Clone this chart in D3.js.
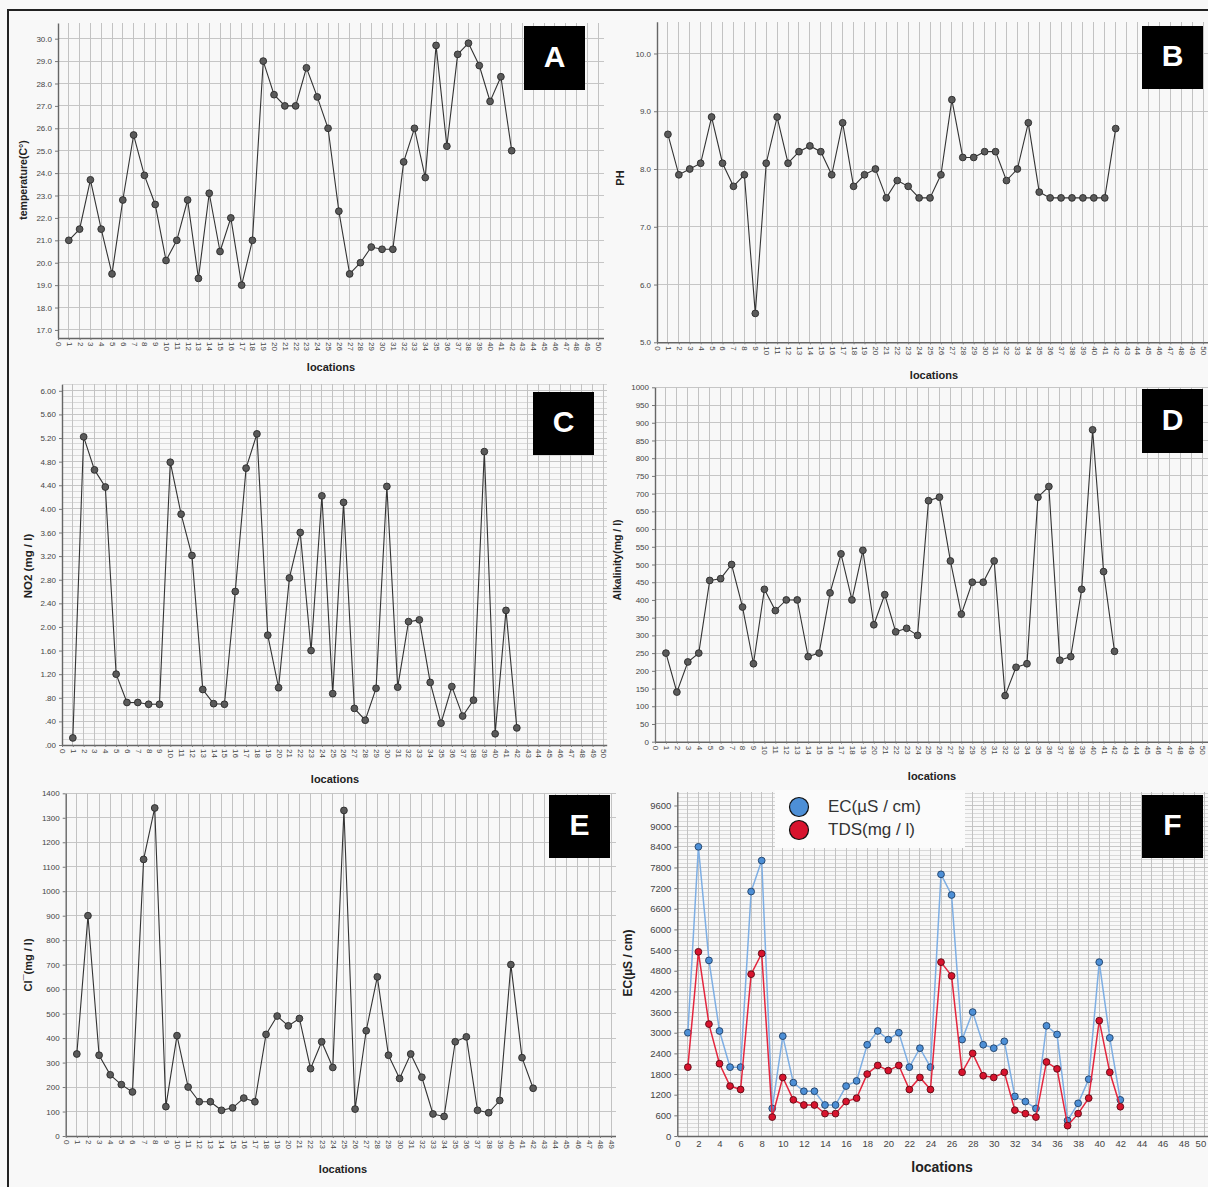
<!DOCTYPE html>
<html><head><meta charset="utf-8">
<script src="https://cdn.jsdelivr.net/npm/d3@7"></script>
<style>
html,body{margin:0;padding:0;background:#f8f8f8;}
svg{display:block;}
text{font-family:"Liberation Sans",Arial,sans-serif;}
</style></head><body>
<svg id="chart" width="1208" height="1187"></svg>
<script>
// ---------------- data ----------------
const locations = [1,2,3,4,5,6,7,8,9,10,11,12,13,14,15,16,17,18,19,20,21,22,23,24,25,26,27,28,29,30,31,32,33,34,35,36,37,38,39,40,41,42];
const temperature = [21.0,21.5,23.7,21.5,19.5,22.8,25.7,23.9,22.6,20.1,21.0,22.8,19.3,23.1,20.5,22.0,19.0,21.0,29.0,27.5,27.0,27.0,28.7,27.4,26.0,22.3,19.5,20.0,20.7,20.6,20.6,24.5,26.0,23.8,29.7,25.2,29.3,29.8,28.8,27.2,28.3,25.0];
const ph = [8.6,7.9,8.0,8.1,8.9,8.1,7.7,7.9,5.5,8.1,8.9,8.1,8.3,8.4,8.3,7.9,8.8,7.7,7.9,8.0,7.5,7.8,7.7,7.5,7.5,7.9,9.2,8.2,8.2,8.3,8.3,7.8,8.0,8.8,7.6,7.5,7.5,7.5,7.5,7.5,7.5,8.7];
const no2 = [0.12,5.22,4.66,4.37,1.20,0.72,0.72,0.69,0.69,4.79,3.91,3.21,0.94,0.70,0.69,2.60,4.69,5.27,1.86,0.97,2.83,3.60,1.60,4.22,0.87,4.11,0.62,0.42,0.96,4.38,0.98,2.09,2.12,1.06,0.37,0.99,0.49,0.76,4.97,0.19,2.28,0.29];
const alkalinity = [250,140,225,250,455,460,500,380,220,430,370,400,400,240,250,420,530,400,540,330,415,310,320,300,680,690,510,360,450,450,510,130,210,220,690,720,230,240,430,880,480,255];
const chloride = [335,900,330,250,210,180,1130,1340,120,410,200,140,140,105,115,155,140,415,490,450,480,275,385,280,1330,110,430,650,330,235,335,240,90,80,385,405,105,95,145,700,320,195];
const ec = [3000,8400,5100,3050,2000,2000,7100,8000,800,2900,1550,1300,1300,900,900,1450,1600,2650,3050,2800,3000,2000,2550,2000,7600,7000,2800,3600,2650,2550,2750,1150,1000,800,3200,2950,450,950,1650,5050,2850,1050];
const tds = [2000,5350,3250,2100,1450,1350,4700,5300,550,1700,1050,900,900,650,650,1000,1100,1800,2050,1900,2050,1350,1700,1350,5050,4650,1850,2400,1750,1700,1850,750,650,550,2150,1950,300,650,1100,3350,1850,850];

// ---------------- tick labels ----------------
const xTicks50 = [0,1,2,3,4,5,6,7,8,9,10,11,12,13,14,15,16,17,18,19,20,21,22,23,24,25,26,27,28,29,30,31,32,33,34,35,36,37,38,39,40,41,42,43,44,45,46,47,48,49,50];
const xTicks49 = xTicks50.slice(0,50);
const xTicksF = [0,2,4,6,8,10,12,14,16,18,20,22,24,26,28,30,32,34,36,38,40,42,44,46,48,50];
const tempTicks = [17,18,19,20,21,22,23,24,25,26,27,28,29,30];
const phTicks = [5,6,7,8,9,10];
const no2Ticks = [0,0.4,0.8,1.2,1.6,2.0,2.4,2.8,3.2,3.6,4.0,4.4,4.8,5.2,5.6,6.0];
const alkTicks = [0,50,100,150,200,250,300,350,400,450,500,550,600,650,700,750,800,850,900,950,1000];
const clTicks = [0,100,200,300,400,500,600,700,800,900,1000,1100,1200,1300,1400];
const ecTicks = [0,600,1200,1800,2400,3000,3600,4200,4800,5400,6000,6600,7200,7800,8400,9000,9600];

const svg = d3.select('#chart');

function drawPanel(c) {
  const g = svg.append('g');
  const x = d3.scaleLinear().domain(c.xDomain).range(c.xRange);
  const y = d3.scaleLinear().domain(c.yDomain).range(c.yRange);
  const [x0, x1] = c.xRange, [yb, yt] = c.yRange;
  const grid = g.append('g').attr('shape-rendering','crispEdges');
  if (c.yMinor) {
    grid.selectAll('line.hm').data(c.yMinor).join('line').attr('class','hm')
      .attr('x1', x0).attr('x2', x1).attr('y1', d => y(d)).attr('y2', d => y(d))
      .attr('stroke', '#d9d9d9').attr('stroke-width', 1);
  }
  grid.selectAll('line.hM').data(c.yTicks.filter(d => d > c.yDomain[0])).join('line').attr('class','hM')
    .attr('x1', x0).attr('x2', x1).attr('y1', d => y(d)).attr('y2', d => y(d))
    .attr('stroke', '#c6c6c6').attr('stroke-width', 1);
  grid.selectAll('line.v').data(c.xGrid).join('line').attr('class','v')
    .attr('x1', d => x(d)).attr('x2', d => x(d)).attr('y1', yt).attr('y2', yb)
    .attr('stroke', '#c2c2c2').attr('stroke-width', 1);

  const ya = g.append('g').attr('transform', `translate(${x0},0)`)
    .call(d3.axisLeft(y).tickValues(c.yTicks).tickFormat(c.yFmt).tickSizeInner(3).tickSizeOuter(0));
  ya.selectAll('text').attr('font-size', c.yFont || 8).attr('fill', '#444').attr('font-family','"Liberation Sans",Arial,sans-serif');
  const xa = g.append('g').attr('transform', `translate(0,${yb})`)
    .call(d3.axisBottom(x).tickValues(c.xTicks).tickFormat(d3.format('d')).tickSizeInner(c.rotate ? 2 : 0).tickSizeOuter(0));
  xa.selectAll('text').attr('font-size', c.xFont || 8).attr('fill', '#444').attr('font-family','"Liberation Sans",Arial,sans-serif');
  if (c.rotate) {
    xa.selectAll('text').attr('transform', 'rotate(90)').attr('text-anchor', 'start')
      .attr('x', 4).attr('y', 0).attr('dy', '0.32em');
  } else {
    xa.selectAll('text').attr('y', 4).attr('dy', '0.71em');
    // keep the last label inside the picture
    xa.selectAll('.tick').filter(d => d === c.xTicks[c.xTicks.length - 1]).select('text')
      .attr('text-anchor', 'end').attr('dx', '0.1em');
  }
  g.selectAll('.domain').attr('stroke', '#666').attr('stroke-width', 1.4);
  g.selectAll('.tick line').attr('stroke', '#777');

  c.series.forEach(s => {
    const line = d3.line().x((d, i) => x(locations[i])).y(d => y(d));
    g.append('path').datum(s.values).attr('d', line).attr('fill', 'none')
      .attr('stroke', s.stroke).attr('stroke-width', s.width || 1.1);
    g.append('g').selectAll('circle').data(s.values).join('circle')
      .attr('cx', (d, i) => x(locations[i])).attr('cy', d => y(d)).attr('r', s.r || 3.4)
      .attr('fill', s.fill).attr('stroke', s.mstroke).attr('stroke-width', 0.9);
  });

  g.append('text').attr('transform', `translate(${c.yTitlePos[0]},${c.yTitlePos[1]}) rotate(-90)`)
    .attr('text-anchor', 'middle').attr('dominant-baseline', 'middle')
    .attr('font-size', c.yTitleFont || 11).attr('font-weight', 'bold').attr('fill', '#222')
    .text(c.yTitle);
  g.append('text').attr('x', c.xTitlePos[0]).attr('y', c.xTitlePos[1])
    .attr('text-anchor', 'middle').attr('dominant-baseline', 'middle')
    .attr('font-size', c.xTitleFont || 11).attr('font-weight', 'bold').attr('fill', '#222')
    .text('locations');
  const b = c.box;
  g.append('rect').attr('x', b[0]).attr('y', b[1]).attr('width', b[2]).attr('height', b[3]).attr('fill', '#000');
  g.append('text').attr('x', b[0] + b[2] / 2).attr('y', b[1] + b[3] / 2 + 1)
    .attr('text-anchor', 'middle').attr('dominant-baseline', 'middle')
    .attr('font-size', 30).attr('font-weight', 'bold').attr('fill', '#fff')
    .attr('font-family', '"Open Sans","Liberation Sans",sans-serif')
    .text(c.letter);
  return {g, x, y};
}

const darkSeries = v => [{values: v, stroke: '#333', fill: '#5a5a5a', mstroke: '#2a2a2a'}];
const f1 = d3.format('.1f');
const fNo2 = d => d3.format('.2f')(d).replace(/^0\./, '.');

drawPanel({
  letter: 'A', xDomain: [0, 50.5], xRange: [58, 603.5], yDomain: [16.64, 30.7], yRange: [338, 23],
  yTicks: tempTicks, yFmt: f1, xTicks: xTicks50, xGrid: xTicks50.slice(1), rotate: true,
  series: darkSeries(temperature), yTitle: 'temperature(C°)', yTitlePos: [24, 180], yTitleFont: 10.5,
  xTitlePos: [331, 368], box: [524, 26, 61, 64]
});
drawPanel({
  letter: 'B', xDomain: [0, 50.5], xRange: [657, 1208.5], yDomain: [5, 10.55], yRange: [342.3, 21.7],
  yTicks: phTicks, yFmt: f1, xTicks: xTicks50, xGrid: xTicks50.slice(1), rotate: true,
  series: darkSeries(ph), yTitle: 'PH', yTitlePos: [621, 178], yTitleFont: 11,
  xTitlePos: [934, 376], box: [1142, 26, 61, 63]
});
drawPanel({
  letter: 'C', xDomain: [0, 50.3], xRange: [62, 606.7], yDomain: [0, 6.11], yRange: [745, 384.3],
  yTicks: no2Ticks, yFmt: fNo2, yMinor: d3.range(0.1, 6.11, 0.1), xTicks: xTicks50, xGrid: xTicks50.slice(1), rotate: true,
  series: darkSeries(no2), yTitle: 'NO2 (mg / l)', yTitlePos: [29, 566], yTitleFont: 11.5,
  xTitlePos: [335, 780], box: [533, 392, 61, 63]
});
drawPanel({
  letter: 'D', xDomain: [0, 50.5], xRange: [655, 1207.5], yDomain: [0, 1000], yRange: [741.7, 387.3],
  yTicks: alkTicks, yFmt: d3.format('d'), xTicks: xTicks50, xGrid: xTicks50.slice(1), rotate: true,
  series: darkSeries(alkalinity), yTitle: 'Alkalinity(mg / l)', yTitlePos: [618, 560], yTitleFont: 10.5,
  xTitlePos: [932, 777], box: [1142, 389, 61, 64]
});
drawPanel({
  letter: 'E', xDomain: [0, 49.4], xRange: [65.7, 615.5], yDomain: [0, 1400], yRange: [1136, 793.3],
  yTicks: clTicks, yFmt: d3.format('d'), xTicks: xTicks49, xGrid: xTicks49.slice(1), rotate: true,
  series: darkSeries(chloride), yTitle: 'Cl¯(mg / l)', yTitlePos: [29, 965], yTitleFont: 11,
  xTitlePos: [343, 1170], box: [549, 795, 61, 63]
});
const pF = drawPanel({
  letter: 'F', xDomain: [0, 50.5], xRange: [677.3, 1210], yDomain: [0, 10000], yRange: [1136, 791.7],
  yTicks: ecTicks, yFmt: d3.format('d'), yMinor: d3.range(120, 10000, 120), yFont: 9.5,
  xTicks: xTicksF, xGrid: xTicks50.slice(1), rotate: false, xFont: 9.5,
  series: [
    {values: ec, stroke: '#7eaee3', width: 1.5, fill: '#4d8fd6', mstroke: '#1f3f66', r: 3.4},
    {values: tds, stroke: '#e3263e', width: 1.5, fill: '#d8142e', mstroke: '#5a0a14', r: 3.4}
  ],
  yTitle: 'EC(µS / cm)', yTitlePos: [629, 963], yTitleFont: 12,
  xTitlePos: [942, 1168], xTitleFont: 14, box: [1142, 795, 61, 63]
});

const legendItems = [
  {label: 'EC(µS / cm)', fill: '#4d8fd6'},
  {label: 'TDS(mg / l)', fill: '#d8142e'}
];
const lg = pF.g.append('g');
lg.append('rect').attr('x', 775).attr('y', 790).attr('width', 190).attr('height', 58).attr('fill', '#fbfbfb');
lg.selectAll('circle').data(legendItems).join('circle')
  .attr('cx', 799).attr('cy', (d, i) => 807 + i * 23).attr('r', 9.5)
  .attr('fill', d => d.fill).attr('stroke', '#111').attr('stroke-width', 1.2);
lg.selectAll('text').data(legendItems).join('text')
  .attr('x', 828).attr('y', (d, i) => 808 + i * 23).attr('dominant-baseline', 'middle')
  .attr('font-size', 17).attr('fill', '#333').text(d => d.label);

svg.append('path').attr('d', 'M8,1187 V10 H1208').attr('fill', 'none').attr('stroke', '#222').attr('stroke-width', 2);
</script>
</body></html>
